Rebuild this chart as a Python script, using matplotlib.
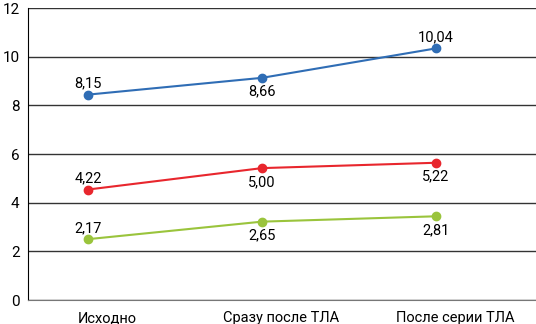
import matplotlib
matplotlib.use('Agg')
from matplotlib import pyplot as plt

plt.rcParams['font.family'] = ['Roboto', 'DejaVu Sans']

# данные
stages = ["Исходно", "Сразу после ТЛА", "После серии ТЛА"]
blue_vals = [8.44, 9.13, 10.34]
red_vals = [4.54, 5.42, 5.64]
green_vals = [2.50, 3.22, 3.44]
blue_labels = ["8,15", "8,66", "10,04"]
red_labels = ["4,22", "5,00", "5,22"]
green_labels = ["2,17", "2,65", "2,81"]
y_ticks = [0, 2, 4, 6, 8, 10, 12]

fig = plt.figure(figsize=(5.36, 3.24), dpi=100)
ax = fig.add_axes([28 / 536, 24 / 324, 1 - 28 / 536, 292 / 324])

xs = list(range(len(stages)))

series = [
    (blue_vals, blue_labels, '#2f6db5', ['up', 'down', 'up']),
    (red_vals, red_labels, '#e8262d', ['up', 'down', 'down']),
    (green_vals, green_labels, '#9ac43c', ['up', 'down', 'down']),
]

for vals, labels, color, where in series:
    ax.plot(xs, vals, color=color, lw=1.5, marker='o', markersize=6, zorder=3)
    for x, v, lab, w in zip(xs, vals, labels, where):
        if w == 'up':
            ax.annotate(lab, (x, v), xytext=(0, 3), textcoords='offset points',
                        ha='center', va='bottom', fontsize=10.5)
        else:
            ax.annotate(lab, (x, v), xytext=(0, -5), textcoords='offset points',
                        ha='center', va='top', fontsize=10.5)

ax.set_ylim(0, 12)
ax.set_xlim(-0.345, 2.575)
ax.set_yticks(y_ticks)
ax.set_yticklabels([str(t) for t in y_ticks], fontsize=11)
# подписи категорий чуть правее точек
ax.set_xticks([x + 0.11 for x in xs])
ax.set_xticklabels(stages, fontsize=10.5)

ax.tick_params(axis='both', length=0)
ax.tick_params(axis='y', pad=6)
ax.tick_params(axis='x', pad=8)
ax.grid(axis='y', color='#333333', lw=1)
ax.set_axisbelow(True)
for s in ['top', 'right']:
    ax.spines[s].set_visible(False)
ax.spines['bottom'].set_color('#777777')
ax.spines['left'].set_color('black')

fig.savefig('out.png', dpi=100)
